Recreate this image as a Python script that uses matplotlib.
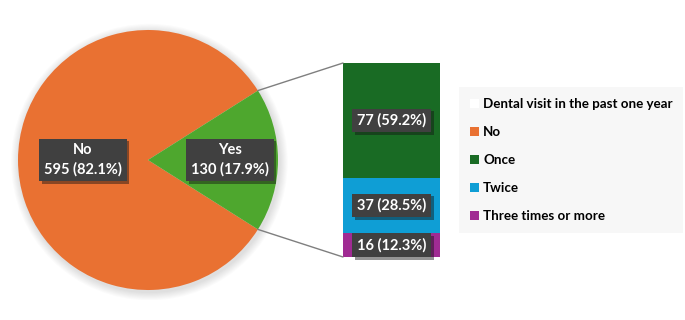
import numpy as np
import matplotlib.pyplot as plt
from matplotlib.patches import ConnectionPatch, Patch, Circle
from matplotlib import patheffects as pe

# Donnees
pie_labels = ['No', 'Yes']
pie_values = [595, 130]
bar_labels = ['Once', 'Twice', 'Three times or more']
bar_values = [77, 37, 16]
legend_title = 'Dental visit in the past one year'

c_no = '#E97132'
c_yes = '#4EA72E'
bar_colors = ['#196B24', '#0F9ED5', '#A02B93']
box_fc = '#404040'

plt.rcParams['font.family'] = ['Lato', 'DejaVu Sans']

fig = plt.figure(figsize=(6.85, 3.2), dpi=100)
W, H = 685.0, 320.0

# Camembert principal
ax_pie = fig.add_axes([8 / W, 20 / H, 280 / W, 280 / H])
total = sum(pie_values)
yes_ang = 360.0 * pie_values[1] / total
R = 130 / 140.0
# ombre douce autour du camembert
for k in range(8):
    ax_pie.add_patch(Circle((0.01, -0.015), R * (1 + 0.008 * (k + 1)),
                            fc='#000000', alpha=0.015, ec='none', zorder=0))
wedges, _ = ax_pie.pie(pie_values, colors=[c_no, c_yes], radius=R,
                       startangle=yes_ang / 2, counterclock=True,
                       wedgeprops=dict(linewidth=0, zorder=1))
ax_pie.set_xlim(-1, 1)
ax_pie.set_ylim(-1, 1)
ax_pie.set_aspect('equal')
ax_pie.axis('off')

shadow = [pe.SimplePatchShadow(offset=(2, -2), alpha=0.45), pe.Normal()]


def label_box(ax, x, y, txt):
    t = ax.text(x, y, txt, ha='center', va='center', color='white',
                fontsize=10.5, fontweight='bold', linespacing=1.45, zorder=5,
                bbox=dict(boxstyle='square,pad=0.32', fc=box_fc, ec='none'))
    t.get_bbox_patch().set_path_effects(shadow)
    return t


pcts = [100.0 * v / total for v in pie_values]
label_box(ax_pie, (83 - 148) / 140, 0,
          '%s\n%d (%.1f%%)' % (pie_labels[0], pie_values[0], pcts[0]))
label_box(ax_pie, (230 - 148) / 140, 0,
          '%s\n%d (%.1f%%)' % (pie_labels[1], pie_values[1], pcts[1]))

# Barre empilee (detail du "Yes")
ax_bar = fig.add_axes([343 / W, (H - 257) / H, 97 / W, 194 / H])
bar_total = sum(bar_values)
bottoms = np.cumsum([0] + bar_values[::-1])[:-1]
for val, col, bot in zip(bar_values[::-1], bar_colors[::-1], bottoms):
    ax_bar.bar(0, val, bottom=bot, width=1.0, color=col, linewidth=0)
    label_box(ax_bar, 0, bot + val / 2,
              '%d (%.1f%%)' % (val, 100.0 * val / bar_total))
ax_bar.set_xlim(-0.5, 0.5)
ax_bar.set_ylim(0, bar_total)
ax_bar.axis('off')

# Lignes de liaison
a = np.deg2rad(yes_ang / 2)
for sgn, yb in [(1, bar_total), (-1, 0)]:
    con = ConnectionPatch(xyA=(R * np.cos(a), sgn * R * np.sin(a)), coordsA=ax_pie.transData,
                          xyB=(-0.5, yb), coordsB=ax_bar.transData,
                          color='#7F7F7F', lw=1.0)
    fig.add_artist(con)

# Legende
handles = [Patch(fc='white', ec='none'), Patch(fc=c_no, ec='none')]
handles += [Patch(fc=c, ec='none') for c in bar_colors]
labels = [legend_title, pie_labels[0]] + bar_labels
leg = fig.legend(handles, labels, loc='center left', bbox_to_anchor=(459 / W, (H - 160) / H),
                 borderaxespad=0, frameon=True, fancybox=False,
                 facecolor='#F7F7F7', edgecolor='none',
                 handlelength=0.7, handleheight=0.7, handletextpad=0.3,
                 labelspacing=1.2, borderpad=0.8, prop=dict(size=9.6, weight='bold'))
leg.get_frame().set_alpha(1)

fig.savefig('out.png', dpi=100)
